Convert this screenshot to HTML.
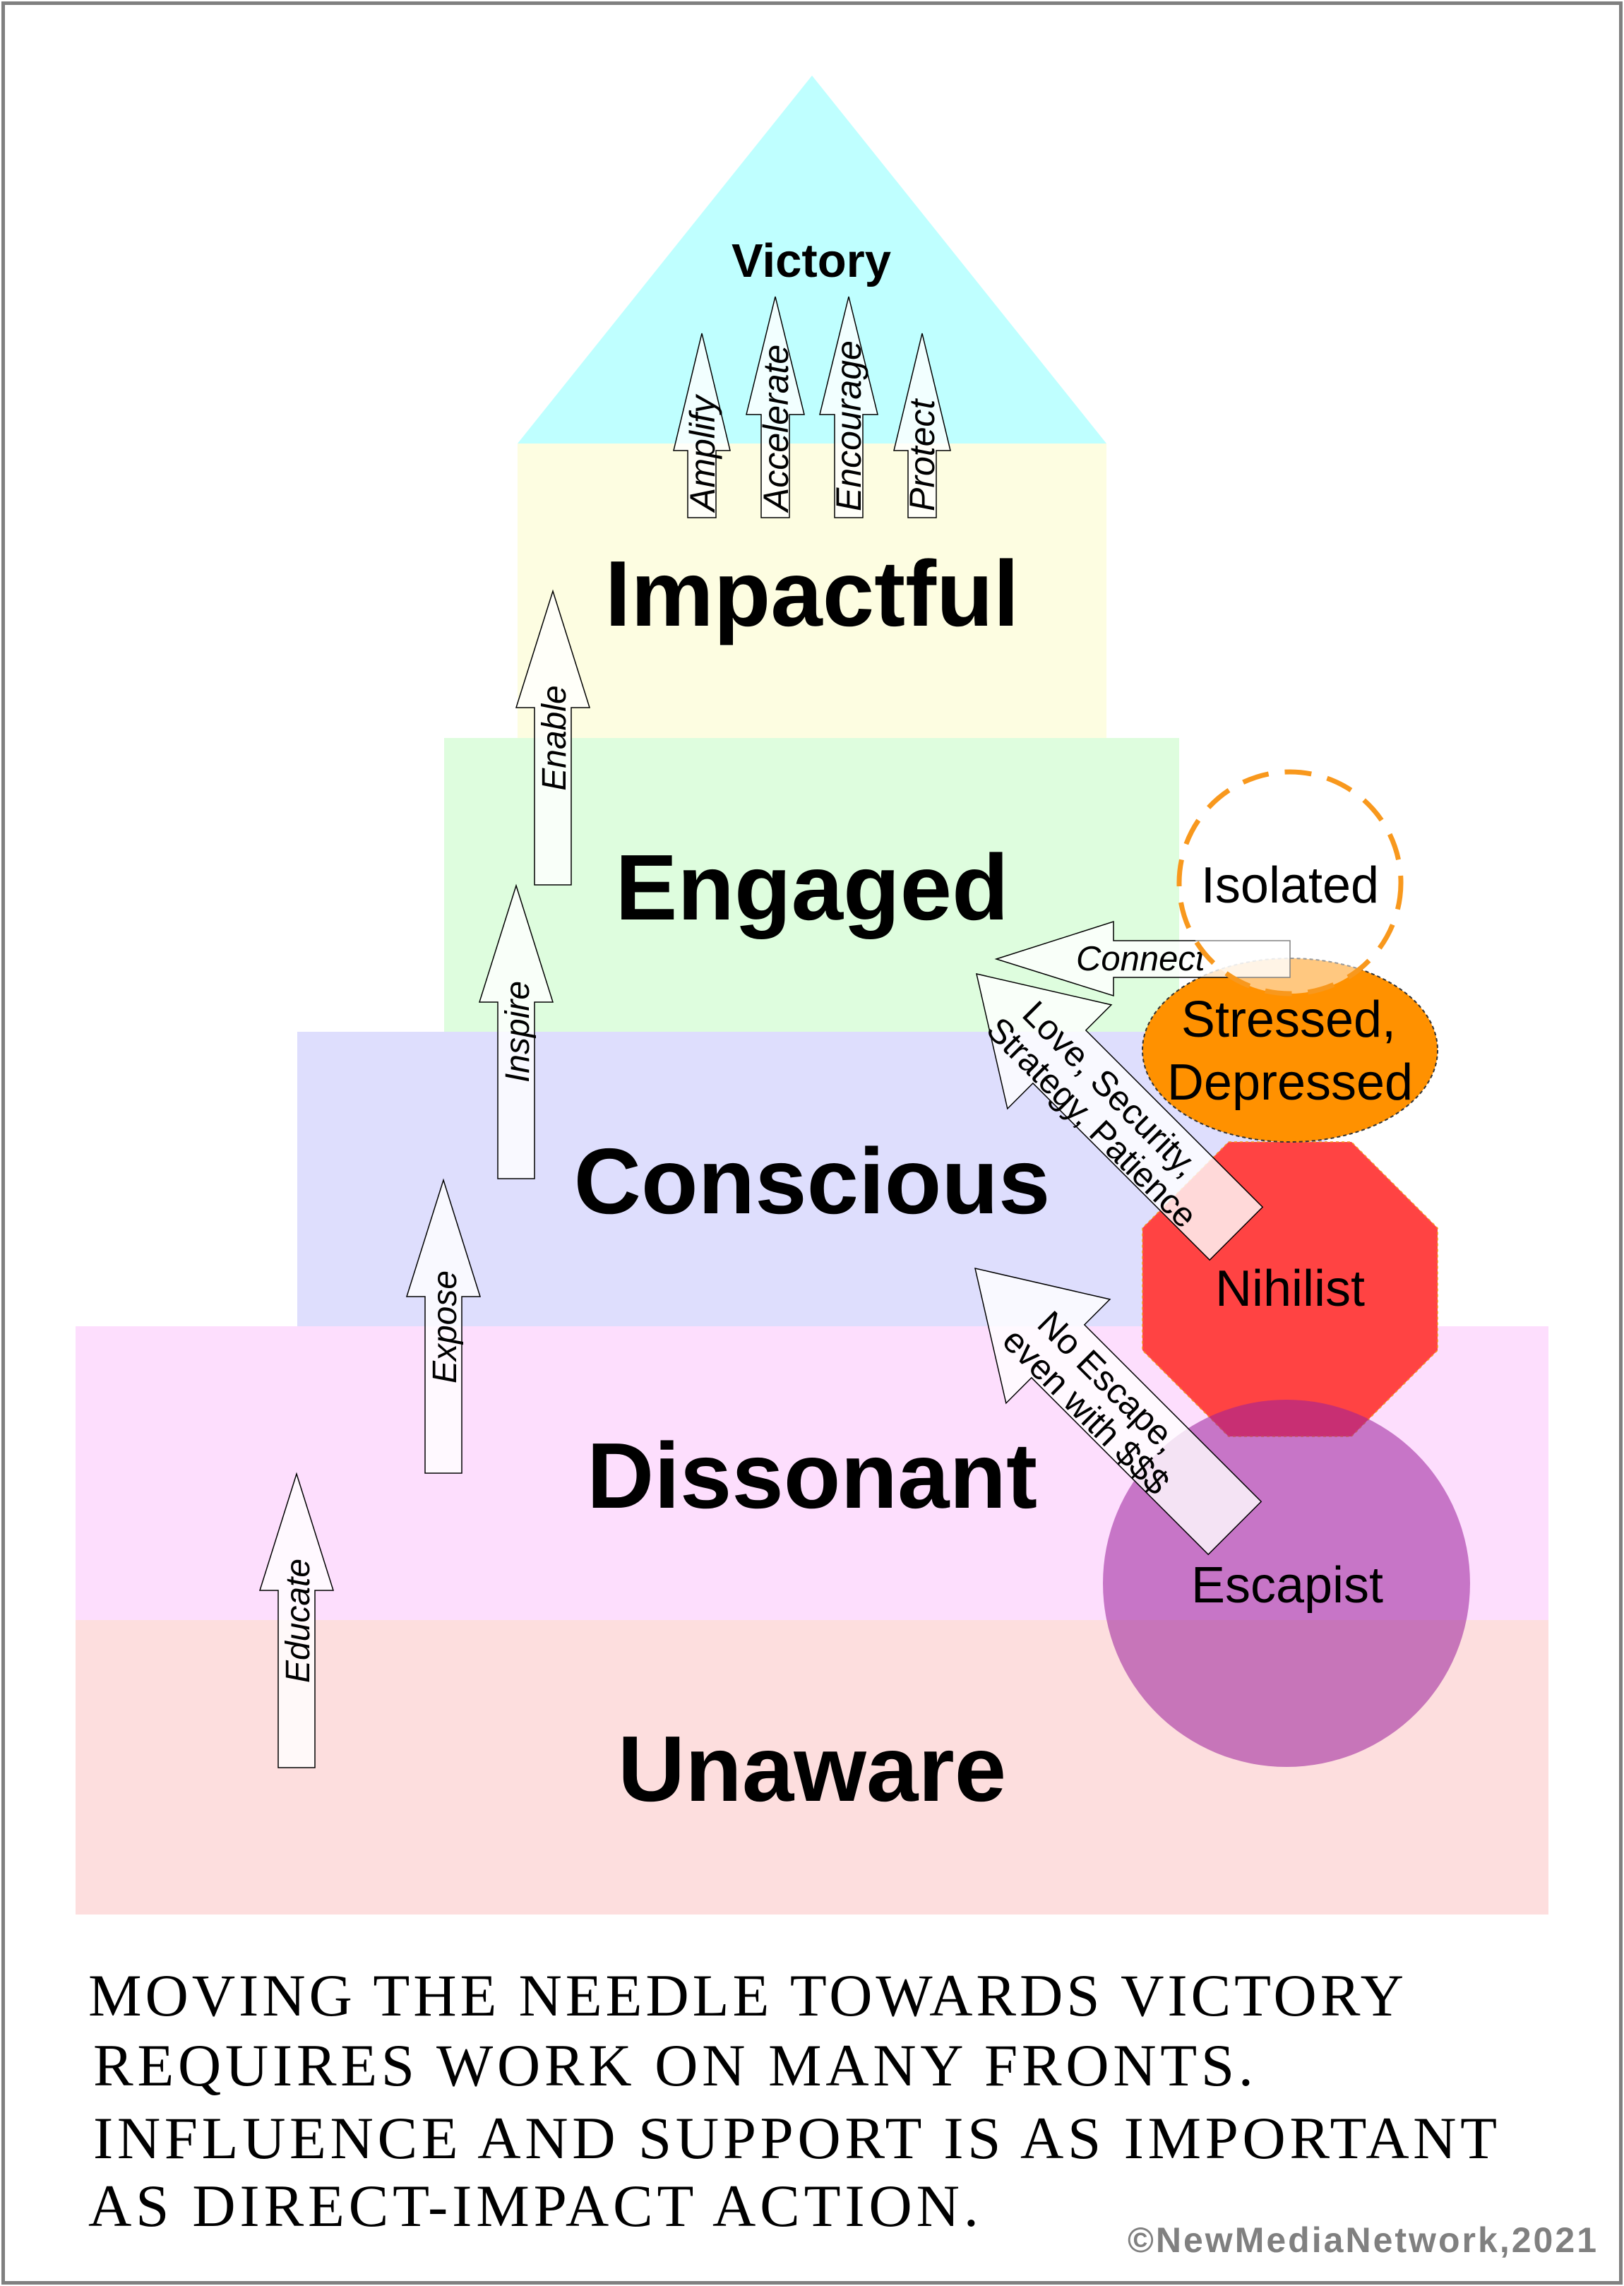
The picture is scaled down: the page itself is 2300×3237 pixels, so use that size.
<!DOCTYPE html>
<html><head><meta charset="utf-8"><style>
html,body{margin:0;padding:0;background:#fff;}
svg{display:block;}
.big{font-family:"Liberation Sans",Arial,sans-serif;font-weight:bold;font-size:132px;text-anchor:middle;fill:#000;}
.it{font-family:"Liberation Sans",Arial,sans-serif;font-style:italic;fill:#000;}
.reg{font-family:"Liberation Sans",Arial,sans-serif;fill:#000;}
.arr{fill:#fff;fill-opacity:0.8;stroke:#000;stroke-width:1.5;}
.foot{font-family:"Liberation Serif","DejaVu Serif",serif;font-size:85px;fill:#000;}
</style></head><body>
<svg width="2300" height="3237" viewBox="0 0 2300 3237" xmlns="http://www.w3.org/2000/svg">
<rect x="0" y="0" width="2300" height="3237" fill="#fff"/>
<!-- bands -->
<rect x="107" y="2294" width="2086" height="417" fill="#FDDEDE"/>
<rect x="107" y="1878" width="2086" height="416" fill="#FDDEFD"/>
<rect x="421" y="1461" width="1458" height="417" fill="#DEDEFD"/>
<rect x="629" y="1045" width="1041" height="416" fill="#DEFDDE"/>
<rect x="733" y="628" width="834" height="417" fill="#FDFDE1"/>
<polygon points="1150,107 733,628 1567,628" fill="#BFFFFF"/>

<!-- big labels -->
<text class="big" x="1150" y="886">Impactful</text>
<text class="big" x="1150" y="1302">Engaged</text>
<text class="big" x="1150" y="1718">Conscious</text>
<text class="big" x="1150" y="2135">Dissonant</text>
<text class="big" x="1150" y="2550">Unaware</text>
<text x="1149" y="392" font-family="Liberation Sans, Arial, sans-serif" font-weight="bold" font-size="67" text-anchor="middle">Victory</text>

<!-- left up arrows -->
<polygon class="arr" points="783,837 835,1002 809,1002 809,1253 757,1253 757,1002 731,1002"/>
<polygon class="arr" points="731,1254 783,1419 757,1419 757,1669 705,1669 705,1419 679,1419"/>
<polygon class="arr" points="628,1671 680,1836 654,1836 654,2086 602,2086 602,1836 576,1836"/>
<polygon class="arr" points="420,2087 472,2252 446,2252 446,2503 394,2503 394,2252 368,2252"/>
<text class="it" font-size="48" text-anchor="middle" transform="translate(801,1045) rotate(-90)">Enable</text>
<text class="it" font-size="48" text-anchor="middle" transform="translate(749,1461) rotate(-90)">Inspire</text>
<text class="it" font-size="48" text-anchor="middle" transform="translate(646,1879) rotate(-90)">Expose</text>
<text class="it" font-size="48" text-anchor="middle" transform="translate(438,2295) rotate(-90)">Educate</text>

<!-- top arrows -->
<polygon class="arr" points="994,472 1034,638 1014,638 1014,733 974,733 974,638 954,638"/>
<polygon class="arr" points="1098,420 1139,587 1118,587 1118,733 1078,733 1078,587 1057,587"/>
<polygon class="arr" points="1202,420 1243,587 1222,587 1222,733 1182,733 1182,587 1161,587"/>
<polygon class="arr" points="1306,472 1346,638 1326,638 1326,733 1286,733 1286,638 1266,638"/>
<text class="it" font-size="50" transform="translate(1012,724) rotate(-90)">Amplify</text>
<text class="it" font-size="50" transform="translate(1116,724) rotate(-90)">Accelerate</text>
<text class="it" font-size="50" transform="translate(1219,724) rotate(-90)">Encourage</text>
<text class="it" font-size="50" transform="translate(1323,724) rotate(-90)">Protect</text>

<!-- octagon -->
<polygon points="1740,1617 1914,1617 2036,1739 2036,1912 1914,2034 1740,2034 1618,1912 1618,1739" fill="#FF4343" stroke="#F39A1E" stroke-width="1.5" stroke-dasharray="4 4"/>
<!-- escapist -->
<circle cx="1822" cy="2242" r="260" fill="#9A1F9A" fill-opacity="0.55"/>

<!-- diagonal arrows -->
<g transform="translate(1383,1379) rotate(45)">
<polygon class="arr" points="0,0 166,-104 166,-53 520,-53 520,53 166,53 166,104"/>
<text class="reg" font-size="50" x="86" y="-2">Love, Security,</text>
<text class="reg" font-size="49" x="66" y="50">Strategy, Patience</text>
</g>
<g transform="translate(1381,1796) rotate(45)">
<polygon class="arr" points="0,0 166,-104 166,-53 520,-53 520,53 166,53 166,104"/>
<text class="reg" font-size="50" x="118" y="-3">No Escape,</text>
<text class="reg" font-size="50" x="100" y="49">even with $$$</text>
</g>

<!-- stressed ellipse -->
<ellipse cx="1827" cy="1487" rx="209" ry="130" fill="#FF9100" stroke="#333" stroke-width="2" stroke-dasharray="5 4"/>
<!-- connect arrow -->
<polygon class="arr" points="1411,1358 1577,1305 1577,1332 1827,1332 1827,1384 1577,1384 1577,1410"/>
<text class="it" font-size="49" x="1524" y="1374">Connect</text>
<!-- isolated -->
<circle cx="1827" cy="1250" r="157" fill="#fff" fill-opacity="0.5" stroke="#F8981D" stroke-width="7" stroke-dasharray="38 23"/>

<!-- shape labels -->
<text class="reg" font-size="72" x="1827" y="1278" text-anchor="middle">Isolated</text>
<text class="reg" font-size="72" x="1825" y="1468" text-anchor="middle">Stressed,</text>
<text class="reg" font-size="72" x="1827" y="1557" text-anchor="middle">Depressed</text>
<text class="reg" font-size="72" x="1827" y="1849" text-anchor="middle">Nihilist</text>
<text class="reg" font-size="72" x="1823" y="2269" text-anchor="middle">Escapist</text>

<!-- footer text -->
<text class="foot" x="125" y="2854" textLength="1863" lengthAdjust="spacing">MOVING THE NEEDLE TOWARDS VICTORY</text>
<text class="foot" x="132" y="2953" textLength="1643" lengthAdjust="spacing">REQUIRES WORK ON MANY FRONTS.</text>
<text class="foot" x="132" y="3056" textLength="1988" lengthAdjust="spacing">INFLUENCE AND SUPPORT IS AS IMPORTANT</text>
<text class="foot" x="125" y="3152" textLength="1261" lengthAdjust="spacing">AS DIRECT-IMPACT ACTION.</text>
<text x="1597" y="3189" font-family="Liberation Sans, Arial, sans-serif" font-weight="bold" font-size="50" fill="#808080" textLength="664" lengthAdjust="spacing">©NewMediaNetwork,2021</text>

<!-- frame -->
<rect x="4.5" y="4.5" width="2291" height="3228" fill="none" stroke="#808080" stroke-width="5"/>
</svg>
</body></html>
